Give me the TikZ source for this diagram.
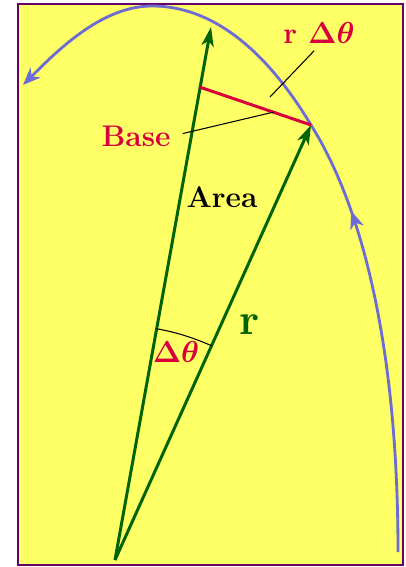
\documentclass[tikz,border=0pt]{standalone}
\usepackage{amsmath}
\usepackage{tikz}
\usetikzlibrary{arrows.meta,positioning,calc,decorations.markings}
\definecolor{bgYellow}{RGB}{255,255,102}
\definecolor{framePurple}{RGB}{102,0,102}
\definecolor{orbitBlue}{RGB}{108,108,212}
\definecolor{radGreen}{RGB}{0,100,0}
\definecolor{baseRed}{RGB}{215,0,60}

\begin{document}
\begin{tikzpicture}[x=0.02cm, y=-0.02cm,
    radvec/.style={line width=1.7pt, radGreen, -{Stealth[length=11pt,width=7pt,inset=3pt]}},
    orbit/.style={line width=1.6pt, orbitBlue, -{Stealth[length=10pt,width=8pt,inset=3pt]},
      decoration={markings, mark=at position 0.43 with {\arrow{Stealth[length=10pt,width=8pt,inset=3pt]}}},
      postaction={decorate}},
    lbl/.style={font=\fontsize{17}{19}\selectfont\bfseries, inner sep=1pt},
    leader/.style={line width=0.6pt, black}]
    \useasboundingbox (0,0) rectangle (405,567);

    % panel with frame
    \fill[white] (0,0) rectangle (405,567);
    \fill[bgYellow] (18,4) rectangle (403,565);
    \draw[framePurple, line width=1.1pt] (18,4) rectangle (403,565);

    % focus and the two radius vectors
    \coordinate (O) at (115,560);
    \coordinate (tipOld) at (211,27);
    \coordinate (tipNew) at (311,125);

    % orbit of the planet
    \coordinate (orbitStart) at (398,552);
    \coordinate (orbitTop) at (152,6);
    \coordinate (orbitEnd) at (23,85);
    \draw[orbit] (orbitStart) .. controls (398,372) and (370,219) .. (tipNew)
      .. controls (275,65) and (222,6) .. (orbitTop)
      .. controls (102,6) and (58,50) .. (orbitEnd);

    \draw[radvec] (O) -- (tipOld);
    \draw[radvec] (O) -- (tipNew);

    % base of the thin triangle
    \coordinate (baseStart) at ($(O)!0.887!(tipOld)$);
    \draw[baseRed, line width=1.7pt] (baseStart) -- (tipNew);
    \coordinate (baseMid) at ($(baseStart)!0.66!(tipNew)$);
    \coordinate (rdtPoint) at (270,97);

    % angle at the focus
    \draw[leader] (O) ++(-79.8:235) arc[start angle=-79.8, end angle=-65.7, radius=235];

    % labels
    \node[lbl, baseRed] (base) at (136,136) {Base};
    \node[lbl, baseRed] (rdt) at (319,33) {r $\boldsymbol{\Delta\theta}$};
    \node[lbl, black] (area) at (222,197) {Area};
    \node[lbl, radGreen, font=\fontsize{25}{27}\selectfont\bfseries] (rlab) at (250,325) {r};
    \node[lbl, baseRed] (dtheta) at (176,352) {$\boldsymbol{\Delta\theta}$};

    % leader lines
    \draw[leader, shorten <=6pt] (base.east) -- (baseMid);
    \draw[leader, shorten <=4pt] (rdt.south) -- (rdtPoint);
\end{tikzpicture}
\end{document}
